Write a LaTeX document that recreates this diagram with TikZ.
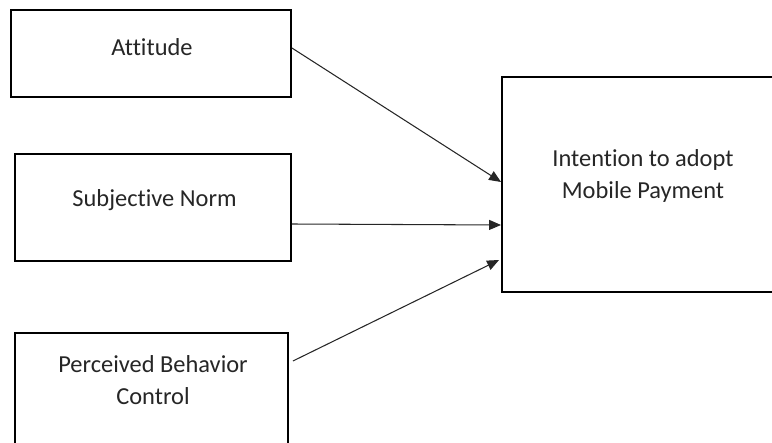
\documentclass[tikz,border=0pt]{standalone}
\usepackage{fontspec}
\setmainfont[Ligatures=NoCommon]{Carlito}
\usetikzlibrary{arrows.meta}

\begin{document}
\begin{tikzpicture}[
  x=0.02cm, y=-0.02cm,
  every node/.style={font=\fontsize{13.9}{18.2}\selectfont, align=center, text=black!85},
  box/.style={draw=black, line width=1.1pt, fill=white, inner sep=0pt},
  arr/.style={-{Triangle[length=0.24cm, width=0.2cm]}, line width=0.6pt, draw=black!85}
]
\useasboundingbox (0,0) rectangle (772,443);
\clip (0,0) rectangle (772,443);
% boxes
\node[box, minimum width=5.6cm, minimum height=1.74cm] (att) at (151,53.5) {};
\node[box, minimum width=5.52cm, minimum height=2.14cm] (norm) at (153,207.5) {};
\node[box, minimum width=5.46cm, minimum height=2.54cm] (pbc) at (151.5,396.5) {};
\node[box, minimum width=5.64cm, minimum height=4.3cm] (intent) at (643,184.5) {};
% labels
\node (attlbl) at (152,47) {Attitude};
\node (normlbl) at (154.5,200) {Subjective Norm};
\node (pbclbl) at (153,380) {Perceived Behavior\\Control};
\node (intentlbl) at (643,176) {Intention to adopt\\Mobile Payment};
% arrows
\draw[arr] ([yshift=0.11cm]att.east) -- ([yshift=0.05cm]intent.west);
\draw[arr] ([yshift=-0.33cm]norm.east) -- ([yshift=-0.81cm]intent.west);
\draw[arr] ([xshift=0.08cm, yshift=0.71cm]pbc.east) -- ([xshift=-0.04cm, yshift=-1.51cm]intent.west);
\end{tikzpicture}
\end{document}
